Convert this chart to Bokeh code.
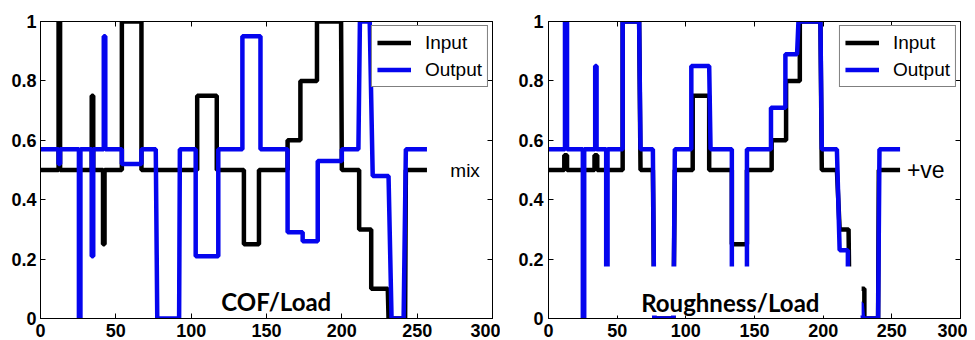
from bokeh.plotting import figure
from bokeh.models import (Range1d, LinearAxis, FixedTicker, Label, BoxAnnotation,
                          CustomLabelingPolicy)
from bokeh.layouts import row
from bokeh.embed import file_html
from bokeh.resources import INLINE

# ---------------- data ----------------
x_ticks = [0, 50, 100, 150, 200, 250, 300]
y_ticks = [0, 0.2, 0.4, 0.6, 0.8, 1]
series_names = ["Input", "Output"]
panel_titles = ["COF/Load", "Roughness/Load"]
side_notes = ["mix", "+ve"]

# COF/Load panel
cof_input_x = [0, 12, 12, 13, 13, 34, 34, 35, 35, 41.5, 41.5, 42.5, 42.5, 54, 54, 67, 67,
               104, 104, 117, 117, 135, 135, 145, 145, 164, 164, 172.5, 172.5, 183.5, 183.5,
               199.5, 200, 211.5, 211.5, 219.5, 219.5, 230.5, 231, 242, 242.5, 256.5]
cof_input_y = [0.5, 0.5, 1, 1, 0.5, 0.5, 0.75, 0.75, 0.5, 0.5, 0.25, 0.25, 0.5, 0.5, 1, 1, 0.5,
               0.5, 0.75, 0.75, 0.5, 0.5, 0.25, 0.25, 0.5, 0.5, 0.6, 0.6, 0.8, 0.8, 1,
               1, 0.5, 0.5, 0.3, 0.3, 0.1, 0.1, 0, 0, 0.5, 0.5]
cof_output_x = [0, 12, 12, 13, 13, 25.5, 25.5, 26.5, 26.5, 34, 34, 35, 35, 42, 42, 43, 43,
                54, 54, 67, 67, 76.5, 77.5, 92, 92.5, 103, 103, 118, 118, 134, 134, 146, 146,
                164, 164, 174, 174, 184, 184, 200, 200, 211, 212, 218.5, 220.5, 231, 233,
                241, 242.5, 256.5]
cof_output_y = [0.57, 0.57, 0.52, 0.52, 0.57, 0.57, 0, 0, 0.57, 0.57, 0.21, 0.21, 0.57, 0.57, 0.95, 0.95, 0.57,
                0.57, 0.52, 0.52, 0.57, 0.57, 0, 0, 0.57, 0.57, 0.21, 0.21, 0.57, 0.57, 0.95, 0.95, 0.57,
                0.57, 0.29, 0.29, 0.26, 0.26, 0.53, 0.53, 0.57, 0.57, 1, 1, 0.48, 0.48, 0,
                0, 0.57, 0.57]

# Roughness/Load panel
rough_input_x = [0, 11.5, 11.5, 13.5, 13.5, 33.5, 33.5, 35.5, 35.5, 54, 54, 66, 67, 76, 77, 91, 92,
                 105, 105, 117, 117, 133.5, 133.5, 144.5, 144.5, 162.5, 162.5, 173, 173, 183, 183,
                 198, 199, 210, 212, 218.5, 219, 230, 230, 240, 240.5, 256]
rough_input_y = [0.5, 0.5, 0.55, 0.55, 0.5, 0.5, 0.55, 0.55, 0.5, 0.5, 1, 1, 0.5, 0.5, 0, 0, 0.5,
                 0.5, 0.75, 0.75, 0.5, 0.5, 0.25, 0.25, 0.5, 0.5, 0.6, 0.6, 0.8, 0.8, 1,
                 1, 0.5, 0.5, 0.3, 0.3, 0.1, 0.1, 0, 0, 0.5, 0.5]
rough_output_x = [0, 12, 12, 13.5, 13.5, 25, 25, 26, 26, 34, 34, 35, 35, 42, 42, 43, 43,
                  54, 54, 66, 67, 76, 77, 91, 92, 104, 104, 117, 118, 133.5, 133.5, 144.5, 144.5,
                  162, 162, 172.5, 172.5, 181, 182, 198, 199, 210, 212, 218, 218, 228, 229,
                  240, 241, 256]
rough_output_y = [0.57, 0.57, 1, 1, 0.57, 0.57, 0, 0, 0.57, 0.57, 0.85, 0.85, 0.57, 0.57, 0.1, 0.1, 0.57,
                  0.57, 1, 1, 0.57, 0.57, 0, 0, 0.57, 0.57, 0.85, 0.85, 0.57, 0.57, 0.1, 0.1, 0.57,
                  0.57, 0.71, 0.71, 0.89, 0.89, 1, 1, 0.57, 0.57, 0.23, 0.23, 0.05, 0.05, 0,
                  0, 0.57, 0.57]

BLACK = "#000000"
BLUE = "#0505ee"
LINE_W = 4.5

NO_LABELS = CustomLabelingPolicy(code="""
    const ids = Array.from(indices)
    for (const i of ids) { indices.unset(i) }
    return indices
""")


def style_axis(ax, ticks, labels=True, standoff=5):
    ax.ticker = FixedTicker(ticks=ticks)
    ax.axis_line_color = "black"
    ax.axis_line_width = 1
    ax.major_tick_in = 5
    ax.major_tick_out = 0
    ax.major_tick_line_color = "black"
    ax.minor_tick_line_color = None
    if labels:
        ax.major_label_text_font = "Liberation Sans"
        ax.major_label_text_font_style = "bold"
        ax.major_label_text_font_size = "18px"
        ax.major_label_text_color = "black"
        ax.major_label_standoff = standoff
    else:
        ax.major_label_text_font_size = "1px"
        ax.major_label_standoff = 0
        ax.major_label_policy = NO_LABELS


def make_panel(in_x, in_y, out_x, out_y, note, note_x, note_size,
               width, border_left, border_right, ylab_standoff):
    p = figure(width=width, height=340, x_range=Range1d(0, 300), y_range=Range1d(0, 1),
               output_backend="svg", toolbar_location=None,
               min_border_left=border_left, min_border_right=border_right,
               min_border_top=21, min_border_bottom=22)
    p.grid.visible = False
    p.outline_line_color = "black"
    p.outline_line_width = 1
    p.background_fill_color = "white"
    p.border_fill_color = "white"

    style_axis(p.xaxis[0], x_ticks, True, 5)
    style_axis(p.yaxis[0], y_ticks, True, ylab_standoff)
    p.yaxis[0].major_label_overrides = {0: "0", 1: "1"}
    top = LinearAxis()
    style_axis(top, x_ticks, False)
    p.add_layout(top, "above")
    right = LinearAxis()
    style_axis(right, y_ticks, False)
    p.add_layout(right, "right")

    p.line(in_x, in_y, line_color=BLACK, line_width=LINE_W, legend_label=series_names[0])
    p.line(out_x, out_y, line_color=BLUE, line_width=LINE_W, legend_label=series_names[1])

    lg = p.legend[0]
    lg.location = "top_right"
    lg.margin = 4
    lg.padding = 5
    lg.spacing = 4
    lg.glyph_width = 34
    lg.glyph_height = 23
    lg.label_height = 23
    lg.label_standoff = 14
    lg.label_text_font = "Liberation Sans"
    lg.label_text_font_size = "19px"
    lg.label_text_color = "black"
    lg.border_line_color = "black"
    lg.border_line_width = 1
    lg.background_fill_color = "white"
    lg.background_fill_alpha = 1

    p.add_layout(Label(x=note_x, y=0.5, text=note, text_font="Liberation Sans",
                       text_font_size=note_size, text_baseline="middle", text_align="left",
                       text_color="black"))
    return p


p1 = make_panel(cof_input_x, cof_input_y, cof_output_x, cof_output_y,
                side_notes[0], 272, "19px", 500, 40, 8, 4)
p1.add_layout(Label(x=120, y=0.058, text=panel_titles[0], text_font="Lato",
                    text_font_style="bold", text_font_size="24px",
                    text_baseline="alphabetic", text_align="left", text_color="black"))

p2 = make_panel(rough_input_x, rough_input_y, rough_output_x, rough_output_y,
                side_notes[1], 261, "23px", 467, 48, 7, 5)
# white backing box behind the panel title (hides the lines under it, as in the original)
p2.add_layout(BoxAnnotation(left=34, right=228, bottom=0.01, top=0.175,
                            fill_color="white", fill_alpha=1, line_alpha=0))
p2.add_layout(Label(x=67.5, y=0.053, text=panel_titles[1], text_font="Lato",
                    text_font_style="bold", text_font_size="24px",
                    text_baseline="alphabetic", text_align="left", text_color="black"))

layout = row(p1, p2)
open("out.html", "w").write(file_html(layout, INLINE))
